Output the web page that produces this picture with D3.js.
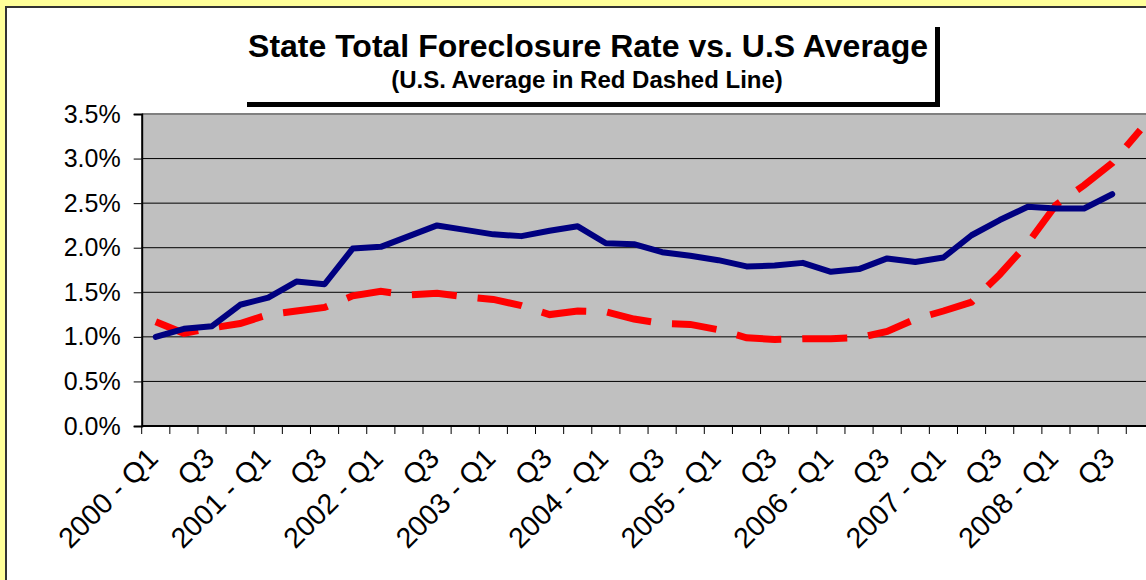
<!DOCTYPE html>
<html>
<head>
<meta charset="utf-8">
<script src="https://cdn.jsdelivr.net/npm/d3@7"></script>
<style>
  html, body { margin: 0; padding: 0; background: #FFFF99; overflow: hidden; }
  text { font-family: Arial, "Liberation Sans", sans-serif; fill: #000; }
</style>
</head>
<body>
<script>
var width = 1146;
var height = 580;

// quarters 2000 Q1 .. 2008 Q4
var years = ["2000","2001","2002","2003","2004","2005","2006","2007","2008"];
var quarters = [];
years.forEach(function(y){ ["Q1","Q2","Q3","Q4"].forEach(function(q){ quarters.push(y + " - " + q); }); });

// label shown under every other quarter
var tickLabels = quarters.map(function(q, i){
  if (i % 4 == 0) return q;
  if (i % 4 == 2) return "Q3";
  return "";
});

// state total foreclosure rate (%), 2000 Q1 .. 2008 Q3
var stateRate = [1.00, 1.09, 1.12, 1.36, 1.44, 1.62, 1.59, 1.99, 2.01, 2.13, 2.25, 2.20,
                 2.15, 2.13, 2.19, 2.24, 2.05, 2.04, 1.95, 1.91, 1.86, 1.79, 1.80, 1.83,
                 1.73, 1.76, 1.88, 1.84, 1.89, 2.14, 2.31, 2.46, 2.44, 2.44, 2.60];

// U.S. average (%), 2000 Q1 .. 2008 Q4
var usAverage = [1.17, 1.04, 1.10, 1.15, 1.25, 1.29, 1.33, 1.46, 1.51, 1.47, 1.49, 1.45,
                 1.42, 1.35, 1.25, 1.29, 1.28, 1.20, 1.15, 1.14, 1.08, 0.99, 0.97, 0.98,
                 0.98, 0.99, 1.06, 1.20, 1.29, 1.39, 1.70, 2.05, 2.48, 2.70, 2.95, 3.32];

var yTicks = [0, 0.5, 1.0, 1.5, 2.0, 2.5, 3.0, 3.5];

var svg = d3.select("body")
            .append("svg")
            .attr("width", width)
            .attr("height", height);

// chart area
svg.append("rect")
   .attr("x", 6).attr("y", 7)
   .attr("width", 1200).attr("height", 620)
   .attr("fill", "#ffffff")
   .attr("stroke", "#333333")
   .attr("stroke-width", 2);

var plotLeft = 141.7, plotRight = 1154.4, plotTop = 114, plotBottom = 426;

var x = d3.scaleBand()
          .domain(quarters)
          .range([plotLeft, plotRight])
          .padding(0);

var y = d3.scaleLinear()
          .domain([0, 3.5])
          .range([plotBottom, plotTop]);

function cx(i){ return x(quarters[i]) + x.bandwidth() / 2; }

// plot background
svg.append("rect")
   .attr("x", plotLeft).attr("y", plotTop)
   .attr("width", plotRight - plotLeft).attr("height", plotBottom - plotTop)
   .attr("fill", "#C0C0C0");

// gridlines
svg.append("g")
   .selectAll("line")
   .data(yTicks.filter(function(d){ return d > 0 && d < 3.5; }))
   .enter()
   .append("line")
   .attr("x1", plotLeft).attr("x2", plotRight)
   .attr("y1", function(d){ return y(d); })
   .attr("y2", function(d){ return y(d); })
   .attr("stroke", "#000000")
   .attr("stroke-width", 1);

// top border of plot
svg.append("line")
   .attr("x1", plotLeft).attr("x2", plotRight)
   .attr("y1", y(3.5)).attr("y2", y(3.5))
   .attr("stroke", "#808080")
   .attr("stroke-width", 2);

// y axis
var yAxis = d3.axisLeft(y)
              .tickValues(yTicks)
              .tickSize(8)
              .tickPadding(13)
              .tickFormat(function(d){ return d3.format(".1f")(d) + "%"; });

var gy = svg.append("g")
            .attr("transform", "translate(" + plotLeft + ",0)")
            .call(yAxis);
gy.select(".domain").attr("stroke", "#000").attr("stroke-width", 2);
gy.selectAll(".tick line").attr("stroke", "#000");
gy.selectAll(".tick text")
  .attr("font-size", 25)
  .attr("font-family", "Arial, 'Liberation Sans', sans-serif");

// x axis line and ticks on category boundaries
svg.append("line")
   .attr("x1", plotLeft).attr("x2", plotRight)
   .attr("y1", plotBottom).attr("y2", plotBottom)
   .attr("stroke", "#000").attr("stroke-width", 2);

var edges = quarters.map(function(q){ return x(q); }).concat([plotRight]);
svg.append("g")
   .selectAll("line")
   .data(edges)
   .enter()
   .append("line")
   .attr("x1", function(d){ return d; }).attr("x2", function(d){ return d; })
   .attr("y1", plotBottom).attr("y2", plotBottom + 8)
   .attr("stroke", "#000").attr("stroke-width", 1);

svg.append("g")
   .selectAll("text")
   .data(tickLabels)
   .enter()
   .append("text")
   .attr("text-anchor", "end")
   .attr("font-size", 28.5)
   .attr("transform", function(d, i){
      return "translate(" + (cx(i) + 4) + "," + 460 + ") rotate(-45)";
   })
   .text(function(d){ return d; });

// lines
var line = d3.line()
             .x(function(d, i){ return cx(i); })
             .y(function(d){ return y(d); });

svg.append("path")
   .datum(usAverage)
   .attr("fill", "none")
   .attr("stroke", "#FF0000")
   .attr("stroke-width", 7)
   .attr("stroke-dasharray", "45,21")
   .attr("stroke-linejoin", "miter")
   .attr("d", line);

svg.append("path")
   .datum(stateRate)
   .attr("fill", "none")
   .attr("stroke", "#000080")
   .attr("stroke-width", 6)
   .attr("stroke-linecap", "round")
   .attr("stroke-linejoin", "round")
   .attr("d", line);

// title box with shadow
svg.append("rect")
   .attr("x", 247).attr("y", 27)
   .attr("width", 693).attr("height", 80)
   .attr("fill", "#000");
svg.append("rect")
   .attr("x", 242).attr("y", 22)
   .attr("width", 693).attr("height", 80)
   .attr("fill", "#fff");

svg.append("text")
   .attr("x", 588).attr("y", 57)
   .attr("text-anchor", "middle")
   .attr("font-size", 32)
   .attr("font-weight", "bold")
   .text("State Total Foreclosure Rate vs. U.S Average");

svg.append("text")
   .attr("x", 587).attr("y", 88)
   .attr("text-anchor", "middle")
   .attr("font-size", 24)
   .attr("font-weight", "bold")
   .text("(U.S. Average in Red Dashed Line)");
</script>
</body>
</html>
